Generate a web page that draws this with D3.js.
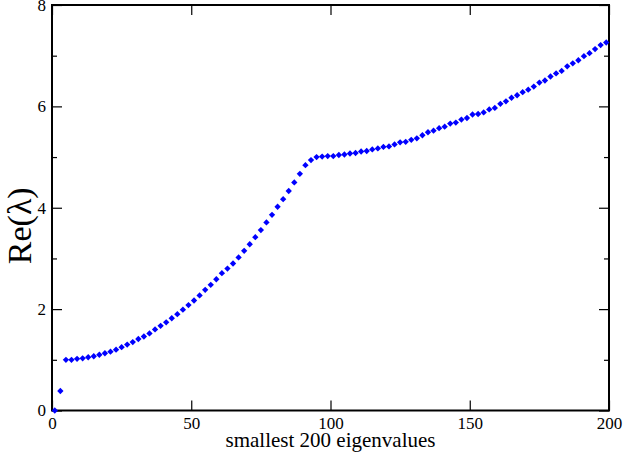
<!DOCTYPE html>
<html><head><meta charset="utf-8">
<script src="https://cdn.jsdelivr.net/npm/d3@7"></script>
<style>body{margin:0;background:#fff}svg{display:block}</style>
</head><body>
<script>
const xTicks = [0, 50, 100, 150, 200];
const yTicks = [0, 2, 4, 6, 8];
const yMinor = [1, 3, 5, 7];
const indices = d3.range(1, 200, 2);
const reValues = [
0, 0.385, 1.00, 1.00, 1.02, 1.03, 1.05, 1.07, 1.10, 1.13,
1.16, 1.20, 1.25, 1.30, 1.35, 1.41, 1.46, 1.52, 1.60, 1.67,
1.74, 1.82, 1.90, 1.99, 2.08, 2.17, 2.27, 2.38, 2.48, 2.59,
2.71, 2.80, 2.90, 3.02, 3.15, 3.28, 3.42, 3.56, 3.71, 3.86,
4.02, 4.17, 4.33, 4.50, 4.67, 4.84, 4.94, 5.00, 5.01, 5.02,
5.02, 5.04, 5.05, 5.07, 5.08, 5.11, 5.12, 5.15, 5.17, 5.20,
5.21, 5.25, 5.29, 5.30, 5.34, 5.37, 5.43, 5.49, 5.52, 5.57,
5.60, 5.66, 5.68, 5.74, 5.77, 5.84, 5.85, 5.88, 5.94, 5.97,
6.05, 6.10, 6.17, 6.22, 6.28, 6.33, 6.39, 6.47, 6.51, 6.59,
6.65, 6.70, 6.79, 6.85, 6.91, 6.99, 7.05, 7.13, 7.21, 7.26];
const xLabel = "smallest 200 eigenvalues";
const yLabel = "Re(λ)";

const W = 623, H = 462;
const L = 52, R = 609, T = 5, B = 410.5;
const svg = d3.select("body").append("svg").attr("width", W).attr("height", H);
const x = d3.scaleLinear().domain([0, 200]).range([L, R]);
const y = d3.scaleLinear().domain([0, 8]).range([B, T]);
const font = "'Liberation Serif','Times New Roman',serif";

// axes with inward ticks
const gB = svg.append("g").attr("transform", `translate(0,${B})`)
  .call(d3.axisBottom(x).tickValues(xTicks).tickSizeInner(-10).tickSizeOuter(0).tickPadding(6));
const gT = svg.append("g").attr("transform", `translate(0,${T})`)
  .call(d3.axisTop(x).tickValues(xTicks).tickSizeInner(-10).tickSizeOuter(0).tickFormat(""));
const gL = svg.append("g").attr("transform", `translate(${L},0)`)
  .call(d3.axisLeft(y).tickValues(yTicks).tickSizeInner(-10).tickSizeOuter(0).tickPadding(6));
const gR = svg.append("g").attr("transform", `translate(${R},0)`)
  .call(d3.axisRight(y).tickValues(yTicks).tickSizeInner(-10).tickSizeOuter(0).tickFormat(""));
const gLm = svg.append("g").attr("transform", `translate(${L},0)`)
  .call(d3.axisLeft(y).tickValues(yMinor).tickSizeInner(-5).tickSizeOuter(0).tickFormat(""));
const gRm = svg.append("g").attr("transform", `translate(${R},0)`)
  .call(d3.axisRight(y).tickValues(yMinor).tickSizeInner(-5).tickSizeOuter(0).tickFormat(""));
[gB, gT, gL, gR, gLm, gRm].forEach(g => {
  g.select(".domain").remove();
  g.selectAll(".tick line").attr("stroke", "#000").attr("stroke-width", 1.2);
  g.selectAll("text").attr("font-family", font).attr("font-size", 17).attr("fill", "#000");
});
gL.selectAll("text").attr("dy", "0.32em");

// frame
svg.append("rect").attr("x", L).attr("y", T).attr("width", R - L).attr("height", B - T)
  .attr("fill", "none").attr("stroke", "#000").attr("stroke-width", 2);

// points
const diamond = { draw(ctx, size) { const r = Math.sqrt(size / 2); ctx.moveTo(0, -r); ctx.lineTo(r, 0); ctx.lineTo(0, r); ctx.lineTo(-r, 0); ctx.closePath(); } };
const sym = d3.symbol().type(diamond).size(20);
svg.append("g").selectAll("path").data(indices.map((d, i) => [d, reValues[i]]))
  .join("path").attr("d", sym)
  .attr("transform", d => `translate(${x(d[0])},${y(d[1])})`)
  .attr("fill", "#0000ff");

// titles
svg.append("text").attr("x", (L + R) / 2).attr("y", 447).attr("text-anchor", "middle")
  .attr("font-family", font).attr("font-size", 21).text(xLabel);
svg.append("text").attr("transform", `translate(31,${(T + B) / 2 + 18}) rotate(-90)`).attr("text-anchor", "middle")
  .attr("font-family", font).attr("font-size", 34).text(yLabel);
</script>
</body></html>
